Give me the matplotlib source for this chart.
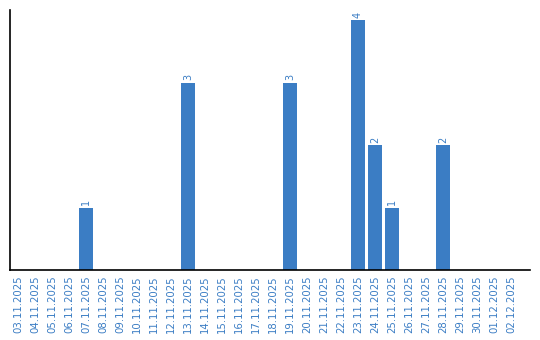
import matplotlib
matplotlib.use('Agg')
import matplotlib.pyplot as plt

dates = ['03.11.2025', '04.11.2025', '05.11.2025', '06.11.2025', '07.11.2025',
         '08.11.2025', '09.11.2025', '10.11.2025', '11.11.2025', '12.11.2025',
         '13.11.2025', '14.11.2025', '15.11.2025', '16.11.2025', '17.11.2025',
         '18.11.2025', '19.11.2025', '20.11.2025', '21.11.2025', '22.11.2025',
         '23.11.2025', '24.11.2025', '25.11.2025', '26.11.2025', '27.11.2025',
         '28.11.2025', '29.11.2025', '30.11.2025', '01.12.2025', '02.12.2025']
counts = [0, 0, 0, 0, 1, 0, 0, 0, 0, 0,
          3, 0, 0, 0, 0, 0, 3, 0, 0, 0,
          4, 2, 1, 0, 0, 2, 0, 0, 0, 0]

blue = '#3b7dc4'

fig = plt.figure(figsize=(5.4, 3.4), dpi=100)
ax = fig.add_axes([10/540, 70/340, 520/540, 260/340])

x = list(range(len(dates)))
ax.bar(x, counts, width=0.82, color=blue)
for xi, c in zip(x, counts):
    if c > 0:
        ax.text(xi, c + 0.04, str(c), rotation=90, ha='center', va='bottom',
                fontsize=7, color=blue)

ax.set_xlim(-0.47, 30.12)
ax.set_ylim(0, 4.16)
ax.set_xticks(x)
ax.set_xticklabels(dates, rotation=90, fontsize=7.3, color=blue)
ax.tick_params(axis='x', length=0, pad=4)
ax.set_yticks([])
ax.spines['top'].set_visible(False)
ax.spines['right'].set_visible(False)
ax.spines['left'].set_linewidth(1.2)
ax.spines['bottom'].set_linewidth(1.2)

fig.savefig('out.png', dpi=100)
